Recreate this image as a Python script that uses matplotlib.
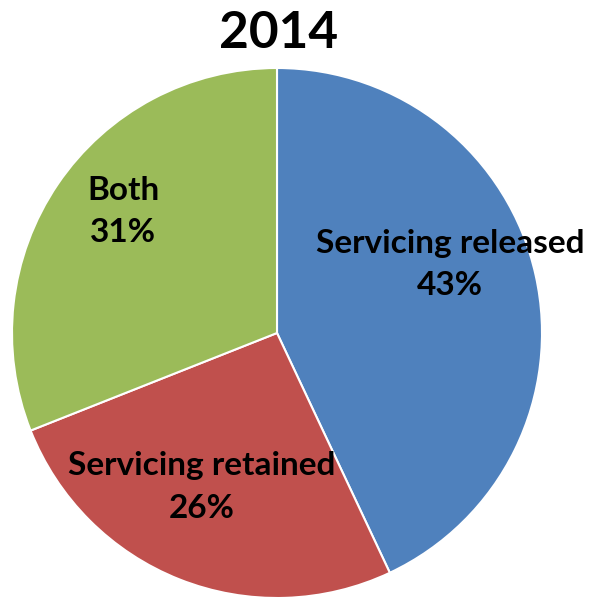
import matplotlib.pyplot as plt

# share of loans by servicing option, 2014
labels = ['Servicing released', 'Servicing retained', 'Both']
shares = [43, 26, 31]
colors = ['#4F81BD', '#C0504D', '#9BBB59']

# label anchor points, in units of the pie radius
label_pos = [(0.653, 0.257), (-0.285, -0.581), (-0.581, 0.457)]

fig = plt.figure(figsize=(5.94, 5.99), dpi=100)
ax = fig.add_axes([12 / 594, 1 / 599, 530 / 594, 530 / 599])

ax.pie(shares, colors=colors, startangle=90, counterclock=False,
       radius=1, wedgeprops=dict(edgecolor='white', linewidth=1.5))
ax.set_xlim(-1, 1)
ax.set_ylim(-1, 1)

for name, val, (x, y) in zip(labels, shares, label_pos):
    ax.text(x, y, f'{name}\n{val}%', ha='center', va='center',
            fontsize=24, fontweight='bold', family='Lato', linespacing=1.55)

fig.text(279 / 594, 1 - 33 / 599, '2014', ha='center', va='center',
         fontsize=37, fontweight='bold', family='Lato')

fig.savefig('out.png', dpi=100)
